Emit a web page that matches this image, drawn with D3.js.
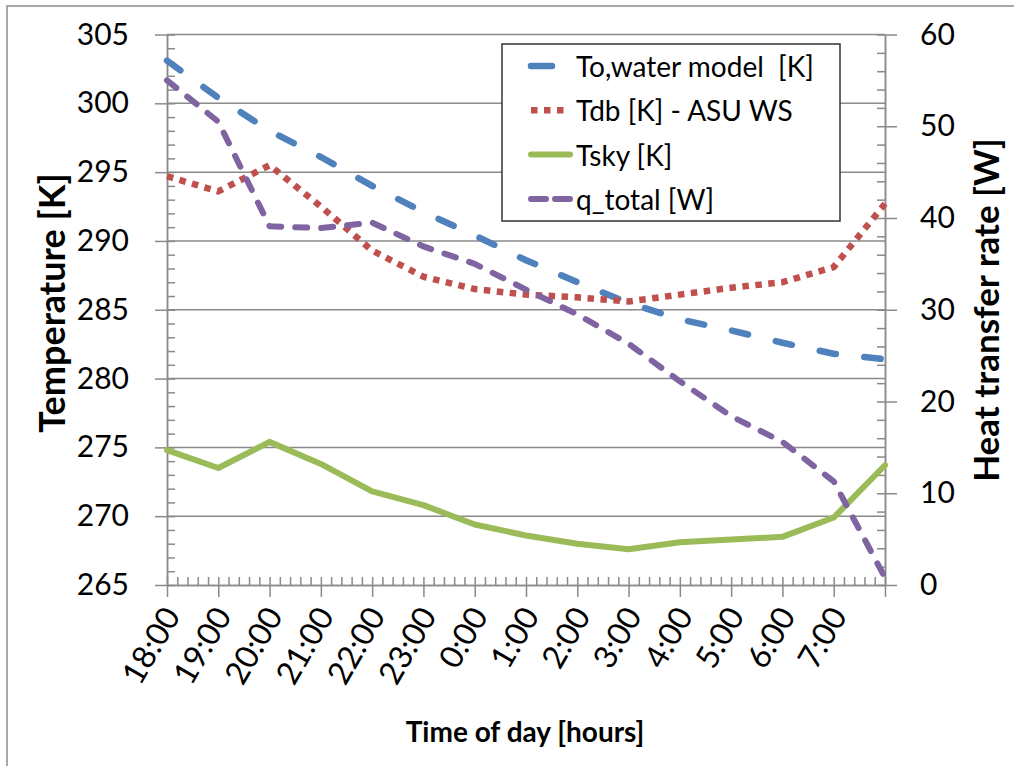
<!DOCTYPE html>
<html>
<head>
<meta charset="utf-8">
<script src="https://cdn.jsdelivr.net/npm/d3@7"></script>
<style>
  body { margin: 0; background: #fff; }
  svg { display: block; font-family: Lato, "Open Sans", sans-serif; }
</style>
</head>
<body>
<svg id="chart" width="1014" height="766"></svg>
<script>
// hours after 18:00, one point per hour up to 8:00
const hours = [0, 1, 2, 3, 4, 5, 6, 7, 8, 9, 10, 11, 12, 13, 14]
const hourLabels = ['18:00', '19:00', '20:00', '21:00', '22:00', '23:00', '0:00',
                    '1:00', '2:00', '3:00', '4:00', '5:00', '6:00', '7:00']

const toWater = [303.1, 300.4, 298.0, 296.1, 294.0, 292.1, 290.4, 288.6, 287.0, 285.5, 284.3, 283.5, 282.6, 281.8, 281.4]
const tdb     = [294.7, 293.6, 295.5, 292.5, 289.3, 287.4, 286.5, 286.1, 285.9, 285.6, 286.1, 286.6, 287.0, 288.1, 292.7]
const tsky    = [274.8, 273.5, 275.4, 273.8, 271.8, 270.8, 269.4, 268.6, 268.0, 267.6, 268.1, 268.3, 268.5, 269.9, 273.7]
const qTotal  = [55.0, 50.5, 39.1, 38.9, 39.5, 36.9, 35.0, 32.2, 29.5, 26.3, 22.2, 18.4, 15.6, 11.3, 0.8]

const tempTicks = [265, 270, 275, 280, 285, 290, 295, 300, 305]
const heatTicks = [0, 10, 20, 30, 40, 50, 60]

const series = [
  { name: 'To,water model  [K]', values: toWater, axis: 'left',  color: '#4F81BD', width: 6.5, dash: '16.5,28.5', cap: 'round' },
  { name: 'Tdb [K] - ASU WS',    values: tdb,     axis: 'left',  color: '#C0504D', width: 6.5, dash: '6.5,6.5',   cap: 'butt' },
  { name: 'Tsky [K]',            values: tsky,    axis: 'left',  color: '#9BBB59', width: 6,   dash: null,        cap: 'round' },
  { name: 'q_total [W]',         values: qTotal,  axis: 'right', color: '#8064A2', width: 6,   dash: '12,14',     cap: 'round' }
]

const svg = d3.select('#chart')
const plotLeft = 167, plotRight = 885, plotTop = 34.5, plotBottom = 585
const axisColor = '#8a8a8a'

const xScale = d3.scaleLinear().domain([0, 14]).range([plotLeft, plotRight])
const yLeft = d3.scaleLinear().domain([265, 305]).range([plotBottom, plotTop])
const yRight = d3.scaleLinear().domain([0, 60]).range([plotBottom, plotTop])

// outer frame
svg.append('rect').attr('x', 7).attr('y', 6).attr('width', 1030).attr('height', 790)
   .attr('fill', 'none').attr('stroke', '#8c8c8c').attr('stroke-width', 1.5)

// gridlines
svg.append('g').selectAll('line')
   .data(tempTicks.slice(1))
   .enter().append('line')
   .attr('x1', plotLeft).attr('x2', plotRight)
   .attr('y1', d => yLeft(d)).attr('y2', d => yLeft(d))
   .attr('stroke', axisColor).attr('stroke-width', 1.5)

const styleAxis = (g) => {
  g.selectAll('path, line').attr('stroke', axisColor).attr('stroke-width', 1.5)
  g.selectAll('text').attr('fill', '#000').style('font-size', '30px').style('font-family', 'Lato, sans-serif')
}

// left axis: majors outward with labels, minors inward
svg.append('g').attr('transform', 'translate(' + plotLeft + ',0)')
   .call(d3.axisLeft(yLeft).tickValues(tempTicks).tickSize(12).tickSizeOuter(0).tickPadding(26).tickFormat(d3.format('d')))
   .call(styleAxis)
svg.append('g').attr('transform', 'translate(' + plotLeft + ',0)')
   .call(d3.axisRight(yLeft).tickValues(d3.range(265, 306, 1)).tickSize(8).tickSizeOuter(0).tickFormat(''))
   .call(styleAxis)

// right axis
svg.append('g').attr('transform', 'translate(' + plotRight + ',0)')
   .call(d3.axisRight(yRight).tickValues(heatTicks).tickSize(12).tickSizeOuter(0).tickPadding(23).tickFormat(d3.format('d')))
   .call(styleAxis)
svg.append('g').attr('transform', 'translate(' + plotRight + ',0)')
   .call(d3.axisLeft(yRight).tickValues(d3.range(0, 61, 2)).tickSize(8).tickSizeOuter(0).tickFormat(''))
   .call(styleAxis)

// x axis
const xAxisG = svg.append('g').attr('transform', 'translate(0,' + plotBottom + ')')
   .call(d3.axisBottom(xScale).tickValues(hours).tickSize(12).tickSizeOuter(0)
         .tickFormat(i => hourLabels[i] || ''))
   .call(styleAxis)
xAxisG.selectAll('text')
   .style('font-size', '32px')
   .attr('text-anchor', 'end')
   .attr('x', 0).attr('y', 0).attr('dy', '0.35em')
   .attr('transform', 'translate(4,25) rotate(-60)')
svg.append('g').attr('transform', 'translate(0,' + plotBottom + ')')
   .call(d3.axisTop(xScale).tickValues(d3.range(0, 14.01, 0.2)).tickSize(8).tickSizeOuter(0).tickFormat(''))
   .call(styleAxis)

// series
series.forEach(s => {
  const y = s.axis === 'left' ? yLeft : yRight
  const line = d3.line().x((d, i) => xScale(hours[i])).y(d => y(d))
  svg.append('path')
     .datum(s.values)
     .attr('d', line)
     .attr('fill', 'none')
     .attr('stroke', s.color)
     .attr('stroke-width', s.width)
     .attr('stroke-linecap', s.cap)
     .attr('stroke-linejoin', 'round')
     .attr('stroke-dasharray', s.dash)
})

// axis titles
svg.append('text')
   .attr('transform', 'translate(51,303) rotate(-90)')
   .attr('text-anchor', 'middle').attr('dominant-baseline', 'central')
   .style('font-size', '36px').style('font-weight', 'bold')
   .text('Temperature [K]')
svg.append('text')
   .attr('transform', 'translate(985,310) rotate(-90)')
   .attr('text-anchor', 'middle').attr('dominant-baseline', 'central')
   .style('font-size', '35px').style('font-weight', 'bold')
   .text('Heat transfer rate [W]')
svg.append('text')
   .attr('x', 525).attr('y', 731)
   .attr('text-anchor', 'middle').attr('dominant-baseline', 'central')
   .style('font-size', '28px').style('font-weight', 'bold')
   .text('Time of day [hours]')

// legend
const legend = svg.append('g')
legend.append('rect').attr('x', 502).attr('y', 44).attr('width', 338).attr('height', 177)
      .attr('fill', '#fff').attr('stroke', '#333').attr('stroke-width', 1.5)
series.forEach((s, i) => {
  const cy = 66 + i * 44.3
  legend.append('line')
        .attr('x1', 531).attr('x2', 570).attr('y1', cy).attr('y2', cy)
        .attr('stroke', s.color).attr('stroke-width', s.width)
        .attr('stroke-linecap', s.cap)
        .attr('stroke-dasharray', i === 0 ? '21,40' : i === 3 ? '15,9' : s.dash)
  legend.append('text')
        .attr('x', 576).attr('y', cy).attr('dominant-baseline', 'central')
        .style('font-size', '28px').style('white-space', 'pre')
        .text(s.name)
})
</script>
</body>
</html>
